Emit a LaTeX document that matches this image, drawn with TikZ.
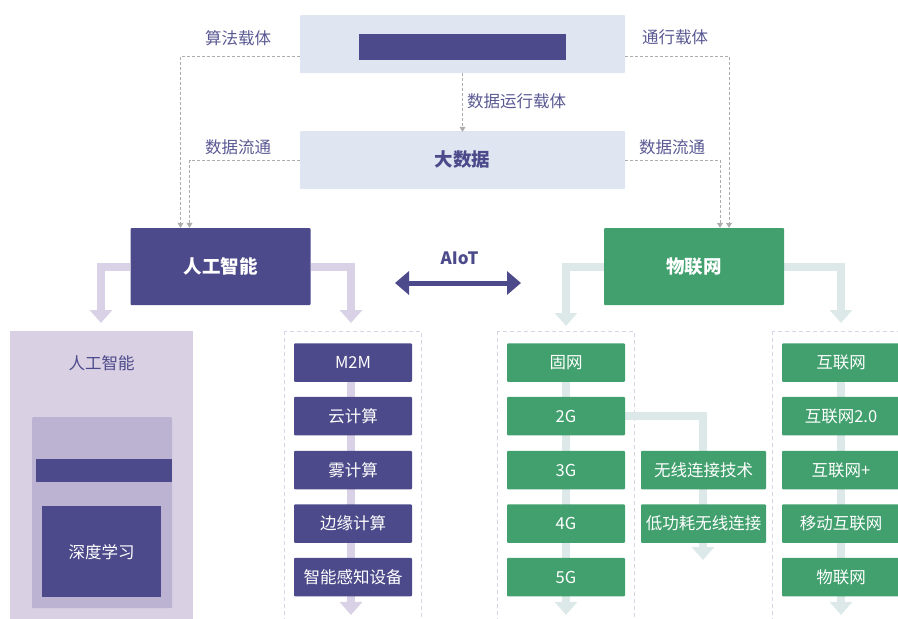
\documentclass[tikz,border=0pt]{standalone}
\usepackage{fontspec}
\setmainfont{Noto Sans CJK SC}
\usetikzlibrary{arrows.meta,backgrounds,calc}
\definecolor{pur}{HTML}{4C4A8A}
\definecolor{grn}{HTML}{41A06D}
\definecolor{lpband}{HTML}{D9D1E6}
\definecolor{lgband}{HTML}{DDE9E9}
\definecolor{topbg}{HTML}{DFE5F1}
\definecolor{panel}{HTML}{D9D0E4}
\definecolor{inpanel}{HTML}{BCB2D2}
\definecolor{lbl}{HTML}{5A5993}
\definecolor{dashg}{HTML}{ADADAD}
\definecolor{cont}{HTML}{D6D6E8}
\begin{document}
\begin{tikzpicture}[x=1pt,y=-1pt,
  box/.style={draw=none, minimum width=118pt, minimum height=38.5pt, inner sep=0pt, text=white, font=\fontsize{16.5}{16.5}\selectfont, rounded corners=1pt},
  pbox/.style={box, fill=pur},
  gbox/.style={box, fill=grn},
  gwide/.style={gbox, minimum width=125pt},
  bigbox/.style={draw=none, inner sep=0pt, minimum width=180pt, minimum height=77pt, text=white, font=\fontsize{18.5}{18.5}\selectfont\bfseries, rounded corners=1pt},
  lightbox/.style={draw=none, fill=topbg, inner sep=0pt, minimum width=325pt, minimum height=58pt, rounded corners=1pt},
  lbltext/.style={text=lbl, font=\fontsize{16.5}{16.5}\selectfont, inner sep=0pt},
  dashline/.style={draw=dashg, line width=0.8pt, dash pattern=on 3pt off 2pt, -{Triangle[width=6pt,length=5pt]}},
  pband/.style={draw=lpband, line width=8pt, line join=miter, -{Triangle[width=22pt,length=13pt]}},
  gband/.style={draw=lgband, line width=8pt, line join=miter, -{Triangle[width=22pt,length=13pt]}},
  container/.style={draw=cont, line width=0.8pt, dash pattern=on 4pt off 3pt}
]
\useasboundingbox (0,0) rectangle (898,619);

% top boxes
\node[lightbox] (top) at (462.5,44) {};
\node[draw=none, fill=pur, minimum width=207pt, minimum height=26pt, inner sep=0pt] (bar) at (462.5,46.5) {};
\node[lightbox, text=pur, font=\fontsize{18.5}{18.5}\selectfont\bfseries] (bd) at (462.5,160) {大数据};

% main boxes
\node[bigbox, fill=pur] (ai) at (220.5,266.5) {人工智能};
\node[bigbox, fill=grn] (iot) at (694,266.5) {物联网};

% labels
\node[lbltext] (l1) at (238,38) {算法载体};
\node[lbltext] (l2) at (675,37) {通行载体};
\node[lbltext] (l3) at (238,147) {数据流通};
\node[lbltext] (l4) at (672,147) {数据流通};
\node[lbltext, anchor=west] (l5) at (467,101) {数据运行载体};

% dashed connectors
\draw[dashline] ([yshift=-12pt]top.west) -| ([xshift=-40pt]ai.north);
\draw[dashline] (bd.west) -| ([xshift=-31pt]ai.north);
\draw[dashline] ([yshift=-12pt]top.east) -| ([xshift=35pt]iot.north);
\draw[dashline] (bd.east) -| ([xshift=26pt]iot.north);
\draw[dashline] (top.south) -- ([yshift=-1pt]bd.north);

% AIoT
\node[text=pur, font=\fontsize{17}{17}\selectfont\bfseries, inner sep=0pt] (aiot) at (459.5,258) {AIoT};
\coordinate (aiotL) at (395,283);
\coordinate (aiotR) at (521,283);
\draw[draw=pur, line width=5pt, {Triangle[width=23pt,length=14pt]}-{Triangle[width=23pt,length=14pt]}] (aiotL) -- (aiotR);

% left panel
\node[draw=none, fill=panel, anchor=north west, minimum width=183pt, minimum height=300pt, inner sep=0pt] (lp) at (10,331) {};
\node[text=pur, font=\fontsize{16.5}{16.5}\selectfont, inner sep=0pt] (lpt) at (101.5,363) {人工智能};
\node[draw=none, fill=inpanel, anchor=north west, minimum width=140pt, minimum height=191pt, inner sep=0pt, rounded corners=1pt] (ip) at (32,417) {};
\node[draw=none, fill=pur, anchor=north west, minimum width=136pt, minimum height=23pt, inner sep=0pt] (ipbar) at (36,459) {};
\node[draw=none, fill=pur, anchor=north west, minimum width=119pt, minimum height=91pt, inner sep=0pt, text=white, font=\fontsize{16.5}{16.5}\selectfont] (dl) at (42,506) {深度学习};

% purple list
\node[pbox] (m1) at (353,362.5) {M2M};
\node[pbox] (m2) at (353,416) {云计算};
\node[pbox] (m3) at (353,470) {雾计算};
\node[pbox] (m4) at (353,523.5) {边缘计算};
\node[pbox] (m5) at (353,577) {智能感知设备};

% green lists
\node[gbox] (g1) at (566,362.5) {固网};
\node[gbox] (g2) at (566,416) {2G};
\node[gbox] (g3) at (566,470) {3G};
\node[gbox] (g4) at (566,523.5) {4G};
\node[gbox] (g5) at (566,577) {5G};
\node[gwide] (w1) at (703.5,470) {无线连接技术};
\node[gwide] (w2) at (703.5,523.5) {低功耗无线连接};
\node[gbox] (r1) at (841,362.5) {互联网};
\node[gbox] (r2) at (841,416) {互联网2.0};
\node[gbox] (r3) at (841,470) {互联网+};
\node[gbox] (r4) at (841,523.5) {移动互联网};
\node[gbox] (r5) at (841,577) {物联网};

\coordinate (aiL) at (101,323);
\coordinate (aiR) at (351,323);
\coordinate (iotL) at (566,326);
\coordinate (iotR) at (841,323);
\coordinate (wEnd) at (703,560);

\begin{scope}[on background layer]
  \draw[container] (284,331) rectangle (421,640);
  \draw[container] (497,331) rectangle (634,640);
  \draw[container] (772,331) rectangle (909,640);
  \draw[pband] (ai.west) -| (aiL);
  \draw[pband] (ai.east) -| (aiR);
  \draw[gband] (iot.west) -| (iotL);
  \draw[gband] (iot.east) -| (iotR);
  \draw[pband] ([xshift=-2pt]m1.center) -- ([xshift=-2pt,yshift=-18.5pt]m5.south);
  \draw[gband] (g1.center) -- ([yshift=-18.5pt]g5.south);
  \draw[gband] (g2.east) -| (wEnd);
  \draw[gband] (r1.center) -- ([yshift=-18.5pt]r5.south);
\end{scope}
\end{tikzpicture}
\end{document}
